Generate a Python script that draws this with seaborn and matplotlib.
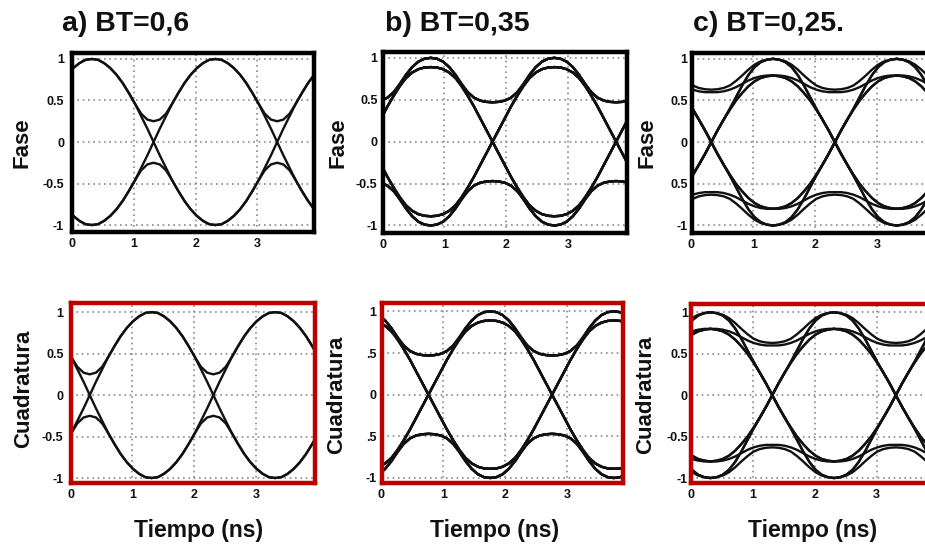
import matplotlib
matplotlib.use("Agg")
import matplotlib.pyplot as plt
import pandas as pd
import seaborn as sns

sns.set_style("white")
plt.rcParams["font.family"] = ["Liberation Sans", "DejaVu Sans"]
plt.rcParams["font.weight"] = "bold"

# ---------------- data ----------------
# half-window sample offsets (ns) from a peak (-1.0) to the crossing / dip centre (0.0)
OFFSETS = [-1.0, -0.9, -0.8, -0.7, -0.6, -0.5, -0.4, -0.3, -0.2, -0.1, 0.0]

# BT = 0,6
BT06_TO_CROSS = [[1.00, 0.99, 0.95, 0.89, 0.81, 0.71, 0.59, 0.46, 0.31, 0.16, 0.00]]
BT06_TO_DIP = [[1.00, 0.99, 0.95, 0.89, 0.81, 0.71, 0.59, 0.46, 0.34, 0.27, 0.25]]

# BT = 0,35
BT035_TO_CROSS = [[1.00, 0.99, 0.955, 0.89, 0.795, 0.68, 0.55, 0.42, 0.28, 0.14, 0.00],
                  [0.89, 0.885, 0.865, 0.825, 0.76, 0.66, 0.545, 0.42, 0.28, 0.14, 0.00]]
BT035_TO_DIP = [[1.00, 0.99, 0.955, 0.89, 0.80, 0.69, 0.59, 0.525, 0.49, 0.475, 0.47],
                [0.89, 0.885, 0.865, 0.825, 0.76, 0.675, 0.59, 0.525, 0.49, 0.475, 0.47]]

# BT = 0,25
BT025_TO_CROSS = [[0.80, 0.79, 0.77, 0.73, 0.67, 0.59, 0.50, 0.39, 0.27, 0.14, 0.00],
                  [1.00, 0.99, 0.96, 0.90, 0.805, 0.68, 0.54, 0.40, 0.27, 0.14, 0.00]]
BT025_TO_DIP = [[1.00, 0.99, 0.97, 0.93, 0.87, 0.80, 0.735, 0.68, 0.65, 0.635, 0.63],
                [0.80, 0.80, 0.79, 0.77, 0.74, 0.70, 0.66, 0.63, 0.61, 0.60, 0.60]]

# crossing instants (ns) of each panel
A_FASE_CENTERS = [-0.68, 1.32, 3.32]
A_CUAD_CENTERS = [0.31, 2.31, 4.31]
B_FASE_CENTERS = [-0.22, 1.78, 3.78]
B_CUAD_CENTERS = [0.76, 2.76, 4.76]
C_FASE_CENTERS = [0.32, 2.32, 4.32]
C_CUAD_CENTERS = [-0.69, 1.31, 3.31]

TITLES = ["a) BT=0,6", "b) BT=0,35", "c) BT=0,25."]
X_TICKS = [0, 1, 2, 3]
X_TICKLABELS = ["0", "1", "2", "3"]
Y_TICKS = [-1, -0.5, 0, 0.5, 1]
Y_LABELS_STD = ["-1", "-0.5", "0", "0.5", "1"]
Y_LABELS_B_CUAD = ["-1", ".5", "0", ".5", "1"]
Y_LABELS_C_FASE = ["-1", "0.5", "0", "0.5", "1"]


def eye_frame(centers, to_cross, to_dip):
    rows = []
    uid = 0
    right = [-o for o in reversed(OFFSETS[:-1])]
    for c in centers:
        t = [c + o for o in OFFSETS] + [c + o for o in right]
        for L in to_cross:
            for R in to_cross:
                v = list(L) + [-r for r in reversed(R[:-1])]
                for s in (1, -1):
                    rows += [(uid, ti, s * vi) for ti, vi in zip(t, v)]
                    uid += 1
        for L in to_dip:
            for R in to_dip:
                if L[-1] != R[-1]:
                    continue
                v = list(L) + list(reversed(R[:-1]))
                for s in (1, -1):
                    rows += [(uid, ti, s * vi) for ti, vi in zip(t, v)]
                    uid += 1
    return pd.DataFrame(rows, columns=["line", "t", "v"])


W, H = 925, 547
fig = plt.figure(figsize=(W / 100, H / 100), dpi=100)
fig.patch.set_facecolor("white")

BLACK = "#000000"
RED = "#bf0000"

# (x0 px, xmax, top px, bottom px, ylim, centres, shapes, ytick labels, pad px, frame colour)
panels = [
    (72.0, 3.91, 53, 232, (-1.084, 1.072), A_FASE_CENTERS, (BT06_TO_CROSS, BT06_TO_DIP), Y_LABELS_STD, 8, BLACK),
    (382.5, 3.96, 52, 233, (-1.09, 1.07), B_FASE_CENTERS, (BT035_TO_CROSS, BT035_TO_DIP), Y_LABELS_STD, 5, BLACK),
    (691.5, 3.96, 53, 233, (-1.09, 1.07), C_FASE_CENTERS, (BT025_TO_CROSS, BT025_TO_DIP), Y_LABELS_C_FASE, 4, BLACK),
    (70.6, 3.96, 303, 483, (-1.06, 1.11), A_CUAD_CENTERS, (BT06_TO_CROSS, BT06_TO_DIP), Y_LABELS_STD, 7, RED),
    (381.5, 3.91, 303, 483, (-1.06, 1.10), B_CUAD_CENTERS, (BT035_TO_CROSS, BT035_TO_DIP), Y_LABELS_B_CUAD, 5, RED),
    (691.3, 3.96, 304, 483, (-1.06, 1.10), C_CUAD_CENTERS, (BT025_TO_CROSS, BT025_TO_DIP), Y_LABELS_STD, 3.5, RED),
]

UNIT = 61.8
for x0, xmax, top, bot, ylim, centers, shapes, ylabels, pad, fcol in panels:
    ax = fig.add_axes([x0 / W, 1 - bot / H, xmax * UNIT / W, (bot - top) / H])
    df = eye_frame(centers, shapes[0], shapes[1])
    sns.lineplot(data=df, x="t", y="v", units="line", estimator=None, sort=False,
                 color="#111111", linewidth=1.7, ax=ax, legend=False)
    ax.set_xlim(0, xmax)
    ax.set_ylim(*ylim)
    ax.set_xticks(X_TICKS)
    ax.set_xticklabels(X_TICKLABELS)
    ax.set_yticks(Y_TICKS)
    ax.set_yticklabels(ylabels)
    ax.set_xlabel("")
    ax.set_ylabel("")
    ax.grid(True, color="#8a8a8a", linestyle=(0, (1, 2.2)), linewidth=1.2)
    ax.set_axisbelow(True)
    ax.tick_params(axis="both", length=0, labelsize=9, colors="#111111")
    ax.tick_params(axis="y", pad=pad / 1.389)
    ax.tick_params(axis="x", pad=6 / 1.389)
    for lab in ax.get_xticklabels() + ax.get_yticklabels():
        lab.set_fontweight("bold")
    for sp in ax.spines.values():
        sp.set_visible(True)
        sp.set_color(fcol)
        sp.set_linewidth(3.2)
        sp.set_zorder(5)

# titles
for txt, x in zip(TITLES, [62, 385, 693]):
    fig.text(x / W, 1 - 31 / H, txt, fontsize=20.5, fontweight="bold",
             ha="left", va="baseline", color="#111111")

# y axis labels
for x in [22, 338, 647]:
    fig.text(x / W, 1 - 143 / H, "Fase", rotation=90, fontsize=16, fontweight="bold",
             ha="center", va="center", color="#111111")
for x, y in [(24, 389), (337, 395), (646, 395)]:
    fig.text(x / W, 1 - y / H, "Cuadratura", rotation=90, fontsize=16, fontweight="bold",
             ha="center", va="center", color="#111111")
# x axis labels
for x in [199, 495, 813]:
    fig.text(x / W, 1 - 531 / H, "Tiempo (ns)", fontsize=16.5, fontweight="bold",
             ha="center", va="center", color="#111111")

fig.savefig("out.png", dpi=100, facecolor="white")
